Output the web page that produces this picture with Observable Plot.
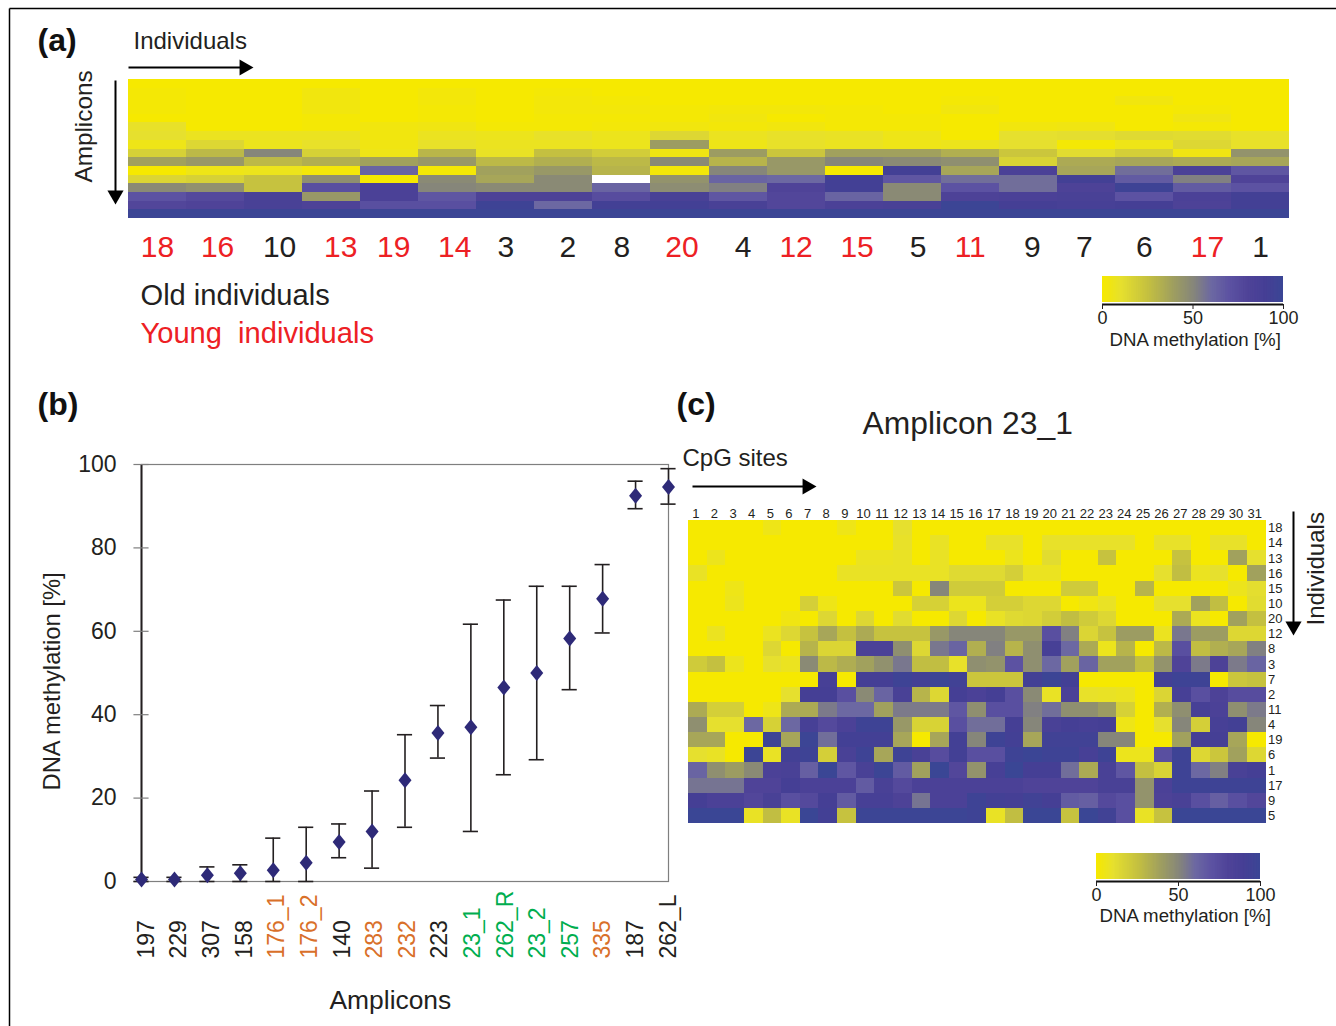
<!DOCTYPE html>
<html><head><meta charset="utf-8">
<script src="https://cdn.jsdelivr.net/npm/d3@7"></script>
<script src="https://cdn.jsdelivr.net/npm/@observablehq/plot@0.6"></script>
<style>
html,body{margin:0;background:#fff;}
#page{position:relative;width:1336px;height:1026px;overflow:hidden;font-family:"Liberation Sans",sans-serif;}
#page>svg,#page>div{position:absolute;}
</style></head><body><div id="page"></div>
<script>
// ---------- data ----------
const individuals = ["18","16","10","13","19","14","3","2","8","20","4","12","15","5","11","9","7","6","17","1"];
const youngIndividuals = ["18","16","13","19","14","20","12","15","11","17"];
const oldIndividuals = ["10","3","2","8","4","5","9","7","6","1"];
// panel (a): one list per individual, top amplicon row to bottom
const amplicon1 = [0,1,1,1,0,9,10,5,17,38,0,15,48,70,78,98];
const amplicon2 = [0,0,0,0,0,0,7,14,28,42,5,17,45,76,80,98];
const amplicon3 = [0,0,0,0,0,0,7,6,50,28,6,24,24,86,86,98];
const amplicon4 = [0,3,3,3,1,1,7,9,17,32,2,46,72,42,82,98];
const amplicon5 = [0,0,0,0,0,3,3,4,5,38,62,0,84,84,72,98];
const amplicon6 = [0,2,2,1,1,4,7,9,29,42,1,48,50,68,72,98];
const amplicon7 = [0,0,0,0,0,1,6,7,8,28,38,36,48,82,96,98];
const amplicon8 = [0,1,2,2,1,1,9,7,25,32,42,48,48,82,60,98];
const amplicon9 = [0,0,1,2,1,2,6,6,19,28,30,null,62,74,92,98];
const amplicon10 = [0,0,0,1,1,3,14,40,4,48,2,44,47,86,92,98];
const amplicon11 = [0,0,0,2,3,2,7,5,40,30,50,62,52,68,86,98];
const amplicon12 = [0,0,0,2,0,3,9,9,22,42,42,60,80,78,78,98];
const amplicon13 = [0,0,0,1,1,1,8,7,38,50,0,92,92,62,84,98];
const amplicon14 = [0,0,0,0,1,1,5,5,38,48,92,68,48,48,86,98];
const amplicon15 = [0,0,1,3,0,0,0,6,32,46,36,58,70,82,98,98];
const amplicon16 = [0,0,0,0,0,3,10,10,22,16,84,58,58,84,90,98];
const amplicon17 = [0,0,0,0,0,4,11,1,12,34,36,92,82,86,88,98];
const amplicon18 = [0,0,3,0,0,0,13,5,18,36,58,66,96,70,90,98];
const amplicon19 = [0,0,0,1,4,1,12,14,4,34,84,52,66,84,82,98];
const amplicon20 = [0,0,0,0,0,0,9,9,44,36,68,80,70,92,92,98];
const panelAColumns = [amplicon1,amplicon2,amplicon3,amplicon4,amplicon5,amplicon6,amplicon7,amplicon8,amplicon9,amplicon10,amplicon11,amplicon12,amplicon13,amplicon14,amplicon15,amplicon16,amplicon17,amplicon18,amplicon19,amplicon20];

// panel (b)
const amplicons = ["197","229","307","158","176_1","176_2","140","283","232","223","23_1","262_R","23_2","257","335","187","262_L"];
const meanMeth = [0.5,0.5,1.5,2,2.7,4.5,9.5,12,24.3,35.6,37,46.5,50,58.3,67.8,92.5,94.6];
const lowMeth  = [0,0,0,0,0,0,5.7,3.2,13,29.6,12,25.6,29.2,46,59.6,89.4,90.5];
const highMeth = [1,1,3.5,4,10.4,13,13.8,21.7,35.2,42.2,61.7,67.5,70.8,70.8,76,96,99];
const orangeAmplicons = ["176_1","176_2","283","232","335"];
const greenAmplicons = ["23_1","262_R","23_2","257"];
const yTicks = [0,20,40,60,80,100];

// panel (c)
const cpgSites = d3.range(1,32).map(String);
const cIndividuals = ["18","14","13","16","15","10","20","12","8","3","7","2","11","4","19","6","1","17","9","5"];
const panelCRows = [
[0,0,0,0,5,0,0,0,5,0,0,10,0,0,0,0,0,0,0,0,0,0,0,0,0,0,0,0,0,0,0],
[0,0,0,0,0,0,0,0,0,0,0,9,0,8,0,0,9,9,0,9,9,9,9,9,0,9,9,0,9,9,0],
[0,6,0,0,0,0,0,0,0,7,7,8,0,8,0,0,0,6,0,12,0,0,24,0,0,0,24,0,0,38,10],
[8,0,0,0,0,0,0,0,8,8,8,8,8,8,13,13,13,18,7,7,0,0,0,0,0,10,26,7,10,0,38],
[0,0,5,0,0,0,0,0,0,0,0,22,0,50,20,20,20,0,0,0,20,20,0,0,30,0,0,0,0,6,11],
[0,0,6,0,0,0,18,5,0,0,0,0,17,17,6,6,18,18,14,14,0,4,8,0,0,10,10,38,26,0,12],
[0,0,0,0,0,4,0,14,0,14,0,12,0,0,14,0,8,13,14,19,26,20,14,0,0,0,34,7,0,38,25],
[0,7,0,0,7,14,24,36,25,34,24,24,24,42,50,50,50,42,42,72,52,15,24,40,40,7,55,40,40,14,14],
[0,0,0,0,14,0,30,15,15,84,84,46,14,55,62,32,52,30,46,88,60,34,6,30,0,28,72,26,32,36,52],
[20,25,6,0,10,7,48,28,33,38,45,55,26,26,9,46,44,70,46,60,38,62,38,38,26,44,80,54,82,54,62],
[0,0,0,0,0,0,0,88,0,90,90,96,92,98,94,22,22,22,92,98,92,0,0,0,0,92,96,96,0,22,24],
[0,0,0,0,0,10,90,90,72,48,62,86,30,14,90,84,90,72,48,8,84,9,8,7,0,15,88,72,82,74,74],
[34,18,18,0,5,34,34,54,60,60,38,54,54,54,68,46,72,72,52,58,46,46,40,17,0,32,46,88,84,46,54],
[46,10,10,60,17,60,88,76,84,96,96,42,16,16,72,58,58,90,50,86,90,88,90,5,0,10,50,18,88,92,50],
[36,36,0,0,97,36,98,58,92,92,92,36,0,36,92,50,96,92,36,94,94,94,50,50,0,0,38,90,90,36,0],
[10,8,0,98,8,92,96,18,86,96,36,96,86,74,92,72,72,96,99,96,96,88,96,6,6,72,96,14,22,38,14],
[62,46,40,48,84,86,64,100,68,86,98,66,38,100,78,44,88,100,90,90,58,34,86,68,25,16,96,60,52,86,90],
[56,56,56,80,80,90,84,84,84,66,86,76,84,84,84,84,84,84,80,80,80,80,86,86,44,84,96,96,96,96,96],
[90,84,84,78,86,72,76,90,66,88,88,82,56,84,84,96,92,90,94,90,66,64,76,72,44,82,86,72,64,72,78],
[100,100,100,8,26,8,100,92,24,98,98,98,98,98,98,96,8,26,100,100,24,100,94,72,8,24,100,100,100,100,100]
];

// shared colour scale
const methStops = [0,10,25,40,50,60,70,80,90,100];
const methColors = ["#f6e900","#e6e02e","#c4c040","#9c9c62","#86867a","#6c68a2","#5c52a2","#4f4398","#453f95","#3a4695"];
const colorScale = {type:"linear", domain:methStops, range:methColors, interpolate:"rgb", clamp:true};
const legendTicks = [0,50,100];

const FONT = "Liberation Sans";
const INK = "#231f20";
const RED = "#ed2024";
const page = document.getElementById("page");
function place(node,left,top){node.style.left=left+"px";node.style.top=top+"px";page.appendChild(node);}

// ---------- panel (a) heat map ----------
const rowsA = d3.range(1,17).map(String);
const tableA = individuals.flatMap((ind,i)=>panelAColumns[i].map((v,r)=>({ind,row:rowsA[r],v})));
const labelNudge = ind=>({"16":2,"10":6,"13":9,"19":4,"14":7,"2":4,"20":2,"4":5,"15":3,"5":6,"9":4,"7":-2,"17":5})[ind]||0;
const indLabel = (ind,fill)=>Plot.text([ind],{x:d=>d,frameAnchor:"bottom",lineAnchor:"middle",dy:29,dx:labelNudge(ind),fontSize:30,fill});
place(Plot.plot({
  width:1161,height:190,marginLeft:0,marginRight:0,marginTop:0,marginBottom:51,
  style:{fontFamily:FONT,background:"transparent",overflow:"visible"},
  x:{domain:individuals,padding:0,round:false,axis:null},
  y:{domain:rowsA,padding:0,round:false,axis:null},
  color:colorScale,
  marks:[
    Plot.cell(tableA,{x:"ind",y:"row",fill:"v",shapeRendering:"crispEdges"}),
    ...oldIndividuals.map(d=>indLabel(d,INK)),
    ...youngIndividuals.map(d=>indLabel(d,RED))
  ]
}),128,79);

// ---------- panel (c) heat map ----------
const tableC = cIndividuals.flatMap((ind,r)=>cpgSites.map((s,c)=>({ind,site:s,v:panelCRows[r][c]})));
place(Plot.plot({
  width:640,height:323,marginLeft:18,marginRight:44.5,marginTop:20,marginBottom:0,
  style:{fontFamily:FONT,background:"transparent",overflow:"visible",color:INK},
  x:{domain:cpgSites,padding:0,round:false,axis:null},
  y:{domain:cIndividuals,padding:0,round:false,axis:null},
  color:colorScale,
  marks:[
    Plot.cell(tableC,{x:"site",y:"ind",fill:"v",shapeRendering:"crispEdges"}),
    Plot.axisX({anchor:"top",tickSize:0,tickPadding:3,fontSize:13,label:null,dx:-2}),
    Plot.axisY({anchor:"right",tickSize:0,tickPadding:2,fontSize:13,label:null})
  ]
}),670,500);

// ---------- panel (b) error-bar chart ----------
const tableB = amplicons.map((name,i)=>({name,i,mean:meanMeth[i],lo:lowMeth[i],hi:highMeth[i]}));
const capHalf = 0.23;
const blackAmplicons = amplicons.filter(a=>!orangeAmplicons.includes(a)&&!greenAmplicons.includes(a));
const ampIndex = d=>amplicons.indexOf(d)*0.99;
const ampLabel = (list,fill)=>Plot.text(list,{x:ampIndex,y:0,dy:77,dx:5,rotate:-90,textAnchor:"start",fontSize:23,fill});
const wideDiamond = {draw(ctx){ctx.moveTo(0,-8);ctx.lineTo(6.5,0);ctx.lineTo(0,8);ctx.lineTo(-6.5,0);ctx.closePath();}};
place(Plot.plot({
  width:640,height:560,marginLeft:81,marginRight:32,marginTop:24,marginBottom:119,
  style:{fontFamily:FONT,background:"transparent",overflow:"visible",color:INK},
  x:{domain:[0,16],axis:null},
  y:{domain:[0,100],axis:null},
  marks:[
    Plot.frame({stroke:"#7f7f7f",strokeWidth:1.2}),
    Plot.ruleX([0],{stroke:INK,strokeWidth:2}),
    Plot.ruleY(yTicks,{x1:-capHalf,x2:capHalf,stroke:"#7f7f7f",strokeWidth:1.2}),
    Plot.axisY({ticks:yTicks,tickSize:0,tickPadding:25,fontSize:23,label:null}),
    Plot.ruleX(tableB,{x:"i",y1:"lo",y2:"hi",stroke:INK,strokeWidth:1.6}),
    Plot.ruleY(tableB,{y:"lo",x1:d=>d.i-capHalf,x2:d=>d.i+capHalf,stroke:INK,strokeWidth:1.6}),
    Plot.ruleY(tableB,{y:"hi",x1:d=>d.i-capHalf,x2:d=>d.i+capHalf,stroke:INK,strokeWidth:1.6}),
    Plot.dot(tableB,{x:"i",y:"mean",symbol:wideDiamond,r:6,fill:"#2e2a78"}),
    ampLabel(blackAmplicons,INK),
    ampLabel(orangeAmplicons,"#d9702a"),
    ampLabel(greenAmplicons,"#00ae4f")
  ]
}),60,440);

// ---------- colour legends ----------
function legendBar(width){
  return Plot.plot({
    width:width+30,height:64,marginLeft:15,marginRight:15,marginTop:0,marginBottom:38,
    style:{fontFamily:FONT,background:"transparent",overflow:"visible",color:INK},
    x:{domain:[0,100],axis:null},
    y:{domain:[0,1],axis:null},
    color:colorScale,
    marks:[
      Plot.rect(d3.range(0,100),{x1:d=>d,x2:d=>Math.min(100,d+1.5),y1:0,y2:1,fill:d=>d}),
      Plot.ruleY([0],{dy:2,stroke:"#111",strokeWidth:2}),
      Plot.axisX({anchor:"bottom",ticks:legendTicks,tickSize:5,tickPadding:2,fontSize:18,label:null,dy:2})
    ]
  });
}
place(legendBar(181),1087,276);
place(legendBar(164),1081,853);

// ---------- page annotations ----------
const note=(text,x,y,size,extra={})=>Plot.text([text],{x,y,text:d=>d,fontSize:size,fill:INK,textAnchor:"start",...extra});
const hArrow=(x1,x2,y)=>[Plot.link([0],{x1,x2:x2-8,y1:y,y2:y,stroke:"#000",strokeWidth:2}),Plot.dot([0],{x:x2-9.3,y,symbol:"triangle",r:6,rotate:90,fill:"#000"})];
const vArrow=(x,y1,y2)=>[Plot.link([0],{x1:x,x2:x,y1,y2:y2-8,stroke:"#000",strokeWidth:2}),Plot.dot([0],{x,y:y2-9.3,symbol:"triangle",r:6,rotate:180,fill:"#000"})];
const bold={fontWeight:"bold",fill:"#111"};
place(Plot.plot({
  width:1336,height:1026,margin:0,
  style:{fontFamily:FONT,background:"transparent"},
  x:{type:"identity",axis:null},y:{type:"identity",axis:null},
  marks:[
    Plot.link([0],{x1:9,x2:1336,y1:8,y2:8,stroke:"#000",strokeWidth:1.5}),
    Plot.link([0],{x1:9,x2:9,y1:8,y2:1026,stroke:"#000",strokeWidth:1.5}),
    note("(a)",37,40,32,bold),
    note("(b)",37,404,32,bold),
    note("(c)",676,404,32,bold),
    note("Individuals",133,41,24),
    ...hArrow(128,253,67),
    note("Amplicons",84,182,24.3,{rotate:-90}),
    ...vArrow(115,80,204),
    note("Old individuals",140,295,29.1),
    note("Young  individuals",140,333,29.1,{fill:RED}),
    note("DNA methylation [%]",1109,340,18.7),
    note("DNA methylation [%]",52,790,23.8,{rotate:-90}),
    note("Amplicons",329,1000,26.4),
    note("Amplicon 23_1",862,423,31.8),
    note("CpG sites",682,458,24),
    ...hArrow(692,816,486),
    note("DNA methylation [%]",1099,916,18.7),
    note("Individuals",1316,625,24,{rotate:-90}),
    ...vArrow(1293,511,635)
  ]
}),0,0);
</script></body></html>
